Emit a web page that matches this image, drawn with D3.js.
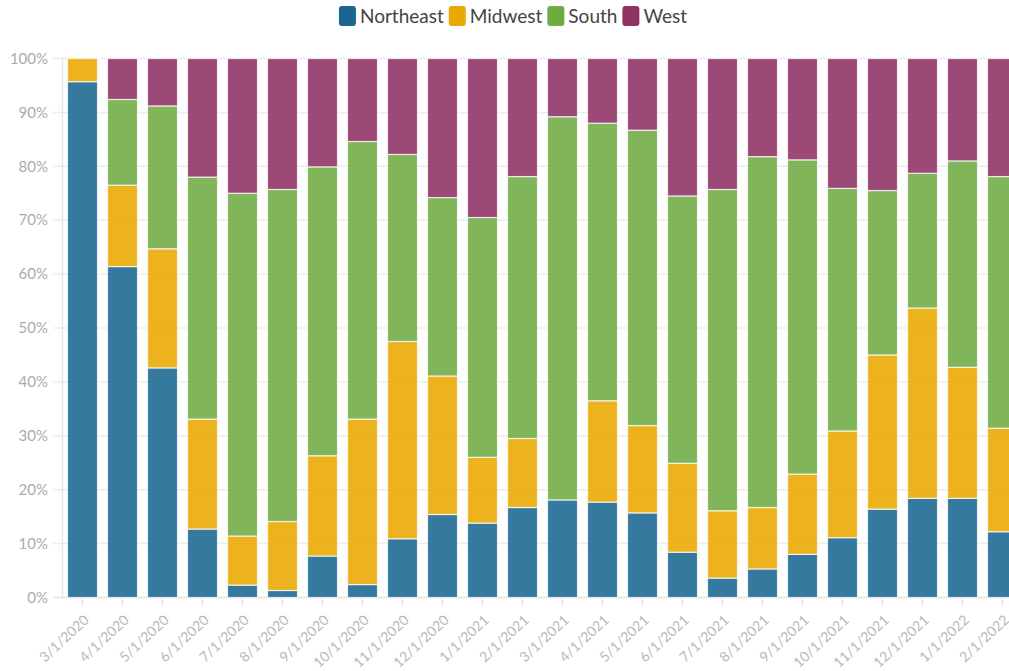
<!DOCTYPE html>
<html>
<head>
<meta charset="utf-8">
<script src="https://cdn.jsdelivr.net/npm/d3@7"></script>
<style>
  body { margin: 0; background: #fff; }
  svg { display: block; font-family: Lato, 'Open Sans', sans-serif; }
</style>
</head>
<body>
<svg id="chart" width="1009" height="671"></svg>
<script>
// months on the x axis
const dates = ['3/1/2020', '4/1/2020', '5/1/2020', '6/1/2020', '7/1/2020', '8/1/2020', '9/1/2020',
  '10/1/2020', '11/1/2020', '12/1/2020', '1/1/2021', '2/1/2021', '3/1/2021', '4/1/2021', '5/1/2021',
  '6/1/2021', '7/1/2021', '8/1/2021', '9/1/2021', '10/1/2021', '11/1/2021', '12/1/2021', '1/1/2022', '2/1/2022'];

const regions = ['Northeast', 'Midwest', 'South', 'West'];
const colors = ['#1a6692', '#eaa900', '#6eab43', '#903064'];

// share of each month, in percent
const northeast = [95.7, 61.4, 42.6, 12.7, 2.3, 1.3, 7.7, 2.4, 10.9, 15.4, 13.8, 16.7, 18.1, 17.7, 15.7, 8.4, 3.6, 5.3, 8.0, 11.1, 16.4, 18.4, 18.4, 12.2];
const midwest = [4.3, 15.1, 22.1, 20.4, 9.1, 12.8, 18.6, 30.7, 36.6, 25.7, 12.2, 12.8, 0, 18.8, 16.2, 16.5, 12.5, 11.4, 14.9, 19.8, 28.6, 35.3, 24.3, 19.2];
const south = [0, 15.9, 26.5, 44.9, 63.6, 61.6, 53.6, 51.5, 34.7, 33.1, 44.5, 48.6, 71.1, 51.5, 54.8, 49.6, 59.6, 65.1, 58.3, 45.0, 30.5, 25.0, 38.3, 46.7];
const west = [0, 7.6, 8.8, 22.0, 25.0, 24.3, 20.1, 15.4, 17.8, 25.8, 29.5, 21.9, 10.8, 12.0, 13.3, 25.5, 24.3, 18.2, 18.8, 24.1, 24.5, 21.3, 19.0, 21.9];

const yTicks = [0, 0.1, 0.2, 0.3, 0.4, 0.5, 0.6, 0.7, 0.8, 0.9, 1];

const rows = dates.map((d, i) => ({
  date: d,
  Northeast: northeast[i],
  Midwest: midwest[i],
  South: south[i],
  West: west[i],
}));

const svg = d3.select('#chart');
const plotTop = 58.5;
const plotBottom = 597.5;
const plotLeft = 62.5;

const x = d3.scaleBand().domain(dates).range([plotLeft, plotLeft + 960]).paddingInner(0.25).paddingOuter(0.125);
const y = d3.scaleLinear().domain([0, 1]).range([plotBottom, plotTop]);
const color = d3.scaleOrdinal().domain(regions).range(colors);

const series = d3.stack().keys(regions).offset(d3.stackOffsetExpand)(rows);

// grid
svg.append('g')
  .selectAll('line')
  .data(yTicks)
  .enter()
  .append('line')
  .attr('x1', 53)
  .attr('x2', 1009)
  .attr('y1', d => y(d))
  .attr('y2', d => y(d))
  .attr('stroke', d => (d === 0 ? '#e2e2e2' : '#ececec'))
  .attr('stroke-width', 1.5);

svg.append('line')
  .attr('x1', plotLeft).attr('x2', plotLeft)
  .attr('y1', plotTop - 1).attr('y2', plotBottom)
  .attr('stroke', '#e6e6e6')
  .attr('stroke-width', 1.5);

// y labels
svg.append('g')
  .selectAll('text')
  .data(yTicks)
  .enter()
  .append('text')
  .attr('x', 48)
  .attr('y', d => y(d))
  .attr('dy', '0.35em')
  .attr('text-anchor', 'end')
  .attr('font-size', 15)
  .attr('fill', '#ababab')
  .text(d3.format('.0%'));

// bars
svg.append('g')
  .selectAll('g')
  .data(series)
  .enter()
  .append('g')
  .attr('fill', d => color(d.key))
  .selectAll('rect')
  .data(d => d)
  .enter()
  .append('rect')
  .attr('x', d => x(d.data.date))
  .attr('y', d => y(d[1]))
  .attr('width', x.bandwidth())
  .attr('height', d => y(d[0]) - y(d[1]))
  .attr('fill-opacity', 0.88)
  .attr('stroke', '#fff')
  .attr('stroke-opacity', 0.75)
  .attr('stroke-width', 1.2);

// x ticks + labels
const xg = svg.append('g');
xg.selectAll('line')
  .data(dates)
  .enter()
  .append('line')
  .attr('x1', d => x(d) + x.bandwidth() / 2)
  .attr('x2', d => x(d) + x.bandwidth() / 2)
  .attr('y1', plotBottom + 1)
  .attr('y2', plotBottom + 8)
  .attr('stroke', '#e2e2e2')
  .attr('stroke-width', 1.5);
xg.selectAll('text')
  .data(dates)
  .enter()
  .append('text')
  .attr('transform', d => `translate(${x(d) + x.bandwidth() / 2 + 4},${plotBottom + 20}) rotate(-43)`)
  .attr('dy', '0.35em')
  .attr('text-anchor', 'end')
  .attr('font-size', 14)
  .attr('fill', '#b8b8b8')
  .text(d => d);

// legend
const legend = svg.append('g');
const items = legend.selectAll('g')
  .data(regions)
  .enter()
  .append('g');
items.append('rect')
  .attr('width', 17)
  .attr('height', 20)
  .attr('y', 6)
  .attr('rx', 3)
  .attr('fill', d => color(d));
items.append('text')
  .attr('x', 21)
  .attr('y', 16)
  .attr('dy', '0.35em')
  .attr('font-size', 19)
  .attr('fill', '#444')
  .text(d => d);
let pos = 0;
const offsets = [];
items.each(function () {
  offsets.push(pos);
  pos += 21 + this.querySelector('text').getComputedTextLength() + 5;
});
pos -= 5;
items.attr('transform', (d, i) => `translate(${offsets[i]},0)`);
legend.attr('transform', `translate(${513 - pos / 2},0)`);
</script>
</body>
</html>
